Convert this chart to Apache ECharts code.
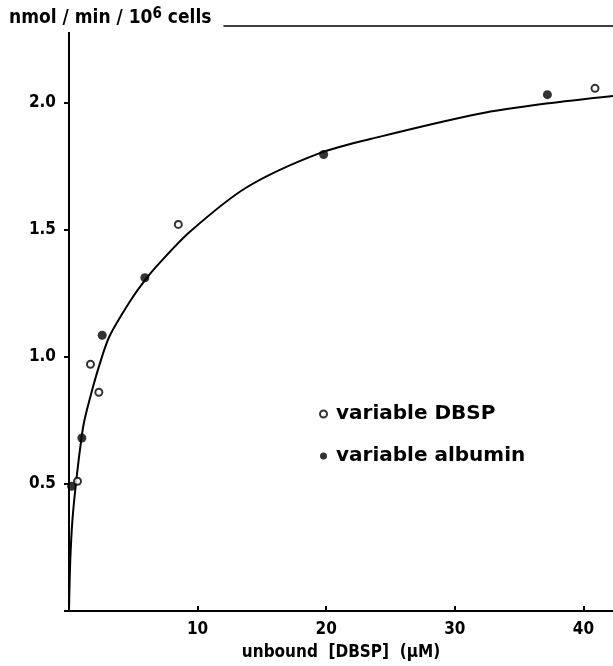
<!DOCTYPE html>
<html>
<head>
<meta charset="utf-8">
<script src="https://cdn.jsdelivr.net/npm/echarts@6/dist/echarts.min.js"></script>
<style>
  html, body { margin: 0; padding: 0; background: #fff; }
  #chart { width: 613px; height: 666px; }
</style>
</head>
<body>
<div id="chart"></div>
<script>
// 数据：未结合 DBSP 浓度 (µM) 与摄取速率 (nmol/min/10^6 cells)
var dbspX = [0.66, 1.67, 2.32, 8.5, 40.9];
var dbspY = [0.51, 0.97, 0.86, 1.52, 2.055];

var albuminX = [0.2, 1.0, 2.58, 5.9, 19.8, 37.2];
var albuminY = [0.49, 0.68, 1.084, 1.31, 1.795, 2.03];

// 拟合曲线
var curveX = [0, 0.1, 0.27, 0.58, 0.97, 1.2, 1.78, 2.32, 3.15, 4.84, 5.9, 6.8, 9.38, 13.8, 19.5, 24.2, 31.9, 37.1, 42.3];
var curveY = [0, 0.2, 0.36, 0.52, 0.68, 0.75, 0.865, 0.96, 1.08, 1.225, 1.30, 1.355, 1.49, 1.665, 1.80, 1.865, 1.955, 1.995, 2.025];

var xTicks = [10, 20, 30, 40];
var yTicks = [0.5, 1.0, 1.5, 2.0];

function zip(xs, ys) {
	return xs.map(function (x, i) { return [x, ys[i]]; });
}

var font = 'DejaVu Sans Condensed';

var chart = echarts.init(document.getElementById('chart'));

chart.setOption({
	animation: false,
	backgroundColor: '#fff',
	title: {
		text: 'nmol / min / 10{s|6} cells',
		left: 7,
		top: 5,
		padding: [2, 12, 4, 2],
		backgroundColor: '#fff',
		textStyle: {
			fontFamily: font,
			fontSize: 19,
			fontWeight: 'bold',
			color: '#000',
			rich: {
				s: { fontFamily: font, fontSize: 15, fontWeight: 'bold', color: '#000', verticalAlign: 'top', padding: [0, 0, 8, 0] }
			}
		}
	},
	legend: {
		orient: 'vertical',
		left: 314,
		top: 399,
		itemGap: 22,
		itemWidth: 7,
		itemHeight: 7,
		textStyle: { fontFamily: 'DejaVu Sans', fontSize: 20, fontWeight: 'bold', color: '#000', padding: [0, 0, 0, 4] },
		data: ['variable DBSP', 'variable albumin']
	},
	grid: { left: 69, right: 0, top: 26, bottom: 54 },
	xAxis: [{
		type: 'value',
		min: 0,
		max: 42.3,
		interval: 10,
		splitLine: { show: false },
		axisLine: { lineStyle: { color: '#000', width: 2 } },
		axisTick: { inside: true, length: 5, lineStyle: { color: '#000', width: 2 } },
		axisLabel: {
			showMaxLabel: false,
			color: '#000',
			fontFamily: font,
			fontSize: 17,
			fontWeight: 'bold',
			margin: 10,
			formatter: function (v) { return xTicks.indexOf(v) >= 0 ? String(v) : ''; }
		},
		name: 'unbound  [DBSP]  (µM)',
		nameLocation: 'middle',
		nameGap: 33,
		nameTextStyle: { color: '#000', fontFamily: font, fontSize: 17, fontWeight: 'bold' }
	}, {
		type: 'value',
		position: 'top',
		min: 0,
		max: 42.3,
		splitLine: { show: false },
		axisLine: { lineStyle: { color: '#000', width: 1.5 } },
		axisTick: { show: false },
		axisLabel: { show: false }
	}],
	yAxis: {
		type: 'value',
		min: 0,
		max: 2.3,
		interval: 0.5,
		splitLine: { show: false },
		axisLine: { lineStyle: { color: '#000', width: 2 } },
		axisTick: { length: 5, lineStyle: { color: '#000', width: 2 } },
		axisLabel: {
			showMaxLabel: false,
			color: '#000',
			fontFamily: font,
			fontSize: 17,
			fontWeight: 'bold',
			margin: 13,
			formatter: function (v) { return yTicks.indexOf(v) >= 0 ? v.toFixed(1) : ''; }
		}
	},
	series: [{
		type: 'line',
		data: zip(curveX, curveY),
		smooth: 0.3,
		showSymbol: false,
		lineStyle: { color: '#000', width: 2 },
		z: 2
	}, {
		name: 'variable DBSP',
		type: 'scatter',
		data: zip(dbspX, dbspY),
		symbol: 'circle',
		symbolSize: 7,
		itemStyle: { color: '#fff', borderColor: '#000', borderWidth: 2 },
		z: 3
	}, {
		name: 'variable albumin',
		type: 'scatter',
		data: zip(albuminX, albuminY),
		symbol: 'circle',
		symbolSize: 9,
		itemStyle: { color: '#000' },
		z: 3
	}]
});
</script>
</body>
</html>
